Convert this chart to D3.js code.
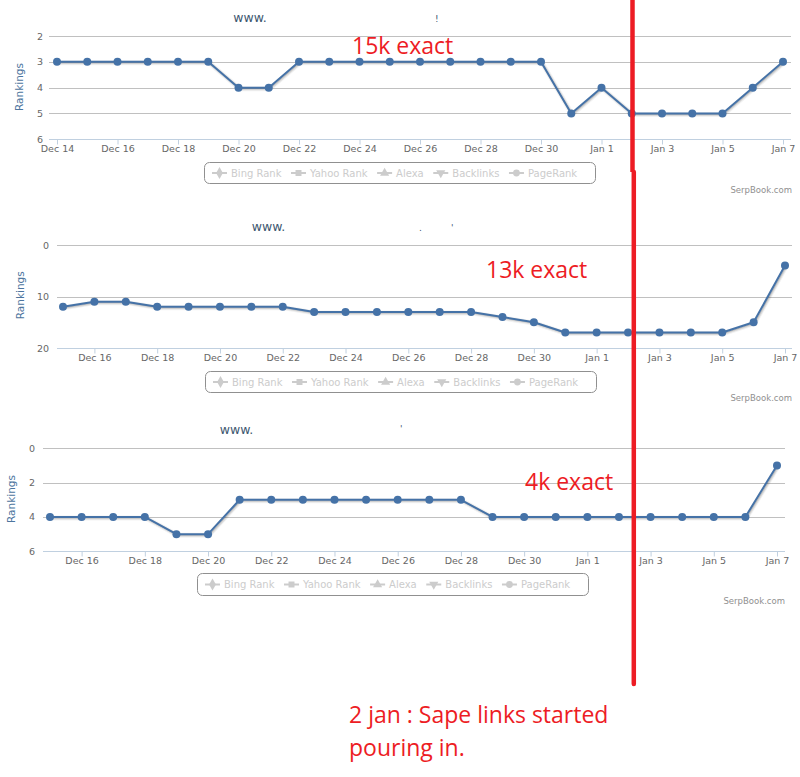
<!DOCTYPE html>
<html><head><meta charset="utf-8">
<script src="https://cdn.jsdelivr.net/npm/d3@7"></script>
<style>body{margin:0;background:#fff} svg{display:block}</style>
</head><body>
<script>
// ---- data ----
const days1 = ["Dec 14","Dec 15","Dec 16","Dec 17","Dec 18","Dec 19","Dec 20","Dec 21","Dec 22","Dec 23","Dec 24","Dec 25","Dec 26","Dec 27","Dec 28","Dec 29","Dec 30","Dec 31","Jan 1","Jan 2","Jan 3","Jan 4","Jan 5","Jan 6","Jan 7"];
const days2 = ["Dec 15","Dec 16","Dec 17","Dec 18","Dec 19","Dec 20","Dec 21","Dec 22","Dec 23","Dec 24","Dec 25","Dec 26","Dec 27","Dec 28","Dec 29","Dec 30","Dec 31","Jan 1","Jan 2","Jan 3","Jan 4","Jan 5","Jan 6","Jan 7"];
const days3 = ["Dec 15","Dec 16","Dec 17","Dec 18","Dec 19","Dec 20","Dec 21","Dec 22","Dec 23","Dec 24","Dec 25","Dec 26","Dec 27","Dec 28","Dec 29","Dec 30","Dec 31","Jan 1","Jan 2","Jan 3","Jan 4","Jan 5","Jan 6","Jan 7"];
const rank1 = [3,3,3,3,3,3,4,4,3,3,3,3,3,3,3,3,3,5,4,5,5,5,5,4,3];
const rank2 = [12,11,11,12,12,12,12,12,13,13,13,13,13,13,14,15,17,17,17,17,17,17,15,4];
const rank3 = [4,4,4,4,5,5,3,3,3,3,3,3,3,3,4,4,4,4,4,4,4,4,4,1];
const xTickLabels = ["Dec 14","Dec 16","Dec 18","Dec 20","Dec 22","Dec 24","Dec 26","Dec 28","Dec 30","Jan 1","Jan 3","Jan 5","Jan 7"];
const yTicks1 = [2,3,4,5,6];
const yTicks2 = [0,10,20];
const yTicks3 = [0,2,4,6];
const legendNames = ["Bing Rank","Yahoo Rank","Alexa","Backlinks","PageRank"];
const legendShapes = ["diamond","square","triangle","triangleDown","circle"];
const notes = ["15k exact","13k exact","4k exact"];
const footnote = ["2 jan : Sape links started","pouring in."];
const titleText = "www.";
const credit = "SerpBook.com";
const yTitle = "Rankings";

// ---- layout ----
const charts = [
  {days: days1, vals: rank1, ticks: yTicks1, grid: [49,791], pts: [57,783], yr: [36,139.3],
   yLab: 43, title: [250,21.7], rk: [22.5,87], leg: [204,162,391,21], credit: [792,193],
   note: [352,54.3], marks: [["!",435,22]]},
  {days: days2, vals: rank2, ticks: yTicks2, grid: [57,792], pts: [63,785], yr: [245,348],
   yLab: 49, title: [268.5,231], rk: [23.5,295.3], leg: [205,371,391,21], credit: [792,401],
   note: [486,278.3], marks: [[".",419,231],["'",451,231]]},
  {days: days3, vals: rank3, ticks: yTicks3, grid: [43,785], pts: [50,777], yr: [448.3,551.3],
   yLab: 35, title: [236.5,434], rk: [15,499], leg: [197,573,391,22], credit: [785,604],
   note: [525,490], marks: [["'",400,432]]}
];

const W = 800, H = 777;
const svg = d3.select("body").append("svg").attr("width", W).attr("height", H);
const lineColor = "#4572A7";
const font = "'DejaVu Sans', Verdana, sans-serif";
const red = "#ed1c24";

charts.forEach((c, ci) => {
  const g = svg.append("g");
  const x = d3.scalePoint().domain(c.days).range(c.pts);
  const y = d3.scaleLinear().domain(d3.extent(c.ticks)).range(c.yr);

  // gridlines
  g.selectAll("line.grid").data(c.ticks.slice(0, -1)).join("line")
    .attr("x1", c.grid[0]).attr("x2", c.grid[1])
    .attr("y1", d => Math.round(y(d)) + 0.5).attr("y2", d => Math.round(y(d)) + 0.5)
    .attr("stroke", "#C0C0C0").attr("stroke-width", 1);
  // y labels
  g.selectAll("text.ylab").data(c.ticks).join("text")
    .attr("x", c.yLab).attr("y", d => y(d) + 3.5)
    .attr("text-anchor", "end").attr("font-family", font).attr("font-size", 9.5)
    .attr("fill", "#666").text(d => d);

  // x axis
  const axisY = Math.round(y(c.ticks[c.ticks.length - 1])) + 0.5;
  const ax = g.append("g").attr("transform", `translate(0,${axisY})`)
    .call(d3.axisBottom(x).tickValues(xTickLabels.filter(t => c.days.includes(t))).tickSize(5));
  ax.select(".domain").remove();
  ax.selectAll(".tick line").attr("stroke", "#C0D0E0");
  ax.selectAll(".tick text").attr("y", 12).attr("dy", 0)
    .attr("font-family", font).attr("font-size", 9.5).attr("fill", "#666");
  g.append("line").attr("x1", c.grid[0]).attr("x2", c.grid[1])
    .attr("y1", axisY).attr("y2", axisY).attr("stroke", "#C0D0E0");

  // series
  const lineGen = d3.line().x((d, i) => x(c.days[i])).y(d => y(d));
  [[5, 0.05], [3, 0.1], [1, 0.15]].forEach(([w, o]) => {
    g.append("path").datum(c.vals).attr("d", lineGen)
      .attr("transform", "translate(1,1)").attr("fill", "none")
      .attr("stroke", "#000").attr("stroke-opacity", o).attr("stroke-width", w)
      .attr("stroke-linejoin", "round");
  });
  g.append("path").datum(c.vals).attr("d", lineGen).attr("fill", "none")
    .attr("stroke", lineColor).attr("stroke-width", 2).attr("stroke-linejoin", "round");
  g.selectAll("circle.pt").data(c.vals).join("circle")
    .attr("cx", (d, i) => x(c.days[i])).attr("cy", d => y(d)).attr("r", 4)
    .attr("fill", lineColor);

  // title
  g.append("text").attr("x", c.title[0]).attr("y", c.title[1]).attr("text-anchor", "middle")
    .attr("font-family", font).attr("font-size", 12.5).attr("fill", "#3E576F").text(titleText);
  c.marks.forEach(m => g.append("text").attr("x", m[1]).attr("y", m[2])
    .attr("font-family", font).attr("font-size", 9).attr("fill", "#3E576F").text(m[0]));

  // y axis title
  g.append("text").attr("transform", `translate(${c.rk[0]},${c.rk[1]}) rotate(-90)`)
    .attr("text-anchor", "middle").attr("font-family", font).attr("font-size", 10.5)
    .attr("fill", "#4d759e").text(yTitle);

  // legend
  const [lx, ly, lw, lh] = c.leg;
  g.append("rect").attr("x", lx + 0.5).attr("y", ly + 0.5).attr("width", lw).attr("height", lh)
    .attr("rx", 5).attr("fill", "none").attr("stroke", "#909090");
  let cur = lx + 8;
  const my = ly + lh / 2 + 0.5;
  legendNames.forEach((name, i) => {
    g.append("line").attr("x1", cur).attr("x2", cur + 15).attr("y1", my).attr("y2", my)
      .attr("stroke", "#ccc").attr("stroke-width", 2);
    const shp = legendShapes[i];
    const type = shp === "diamond" ? d3.symbolDiamond : shp === "square" ? d3.symbolSquare :
      shp === "circle" ? d3.symbolCircle : d3.symbolTriangle;
    g.append("path").attr("d", d3.symbol().type(type).size(shp === "diamond" ? 40 : 36))
      .attr("transform", `translate(${cur + 7.5},${my})` + (shp === "triangleDown" ? " rotate(180)" : ""))
      .attr("fill", "#ccc");
    const t = g.append("text").attr("x", cur + 19).attr("y", ly + 15)
      .attr("font-family", font).attr("font-size", 10).attr("fill", "#ccc").text(name);
    cur += 19 + t.node().getComputedTextLength() + 9.5;
  });

  // credit
  g.append("text").attr("x", c.credit[0]).attr("y", c.credit[1]).attr("text-anchor", "end")
    .attr("font-family", font).attr("font-size", 8.5).attr("fill", "#909090").text(credit);

  // red note
  svg.append("text").attr("x", c.note[0]).attr("y", c.note[1])
    .attr("font-family", "'Open Sans', sans-serif").attr("font-size", 23).attr("fill", red)
    .text(notes[ci]);
});

// red marker line for 2 Jan
svg.append("line").attr("x1", 632.5).attr("x2", 632.5).attr("y1", 0).attr("y2", 172)
  .attr("stroke", red).attr("stroke-width", 4.5);
svg.append("line").attr("x1", 633.8).attr("x2", 633.8).attr("y1", 172).attr("y2", 684)
  .attr("stroke", red).attr("stroke-width", 4.5).attr("stroke-linecap", "round");

// footnote
footnote.forEach((t, i) => {
  svg.append("text").attr("x", 349).attr("y", 723 + i * 33)
    .attr("font-family", "'Open Sans', sans-serif").attr("font-size", 23).attr("fill", red).text(t);
});
</script>
</body></html>
